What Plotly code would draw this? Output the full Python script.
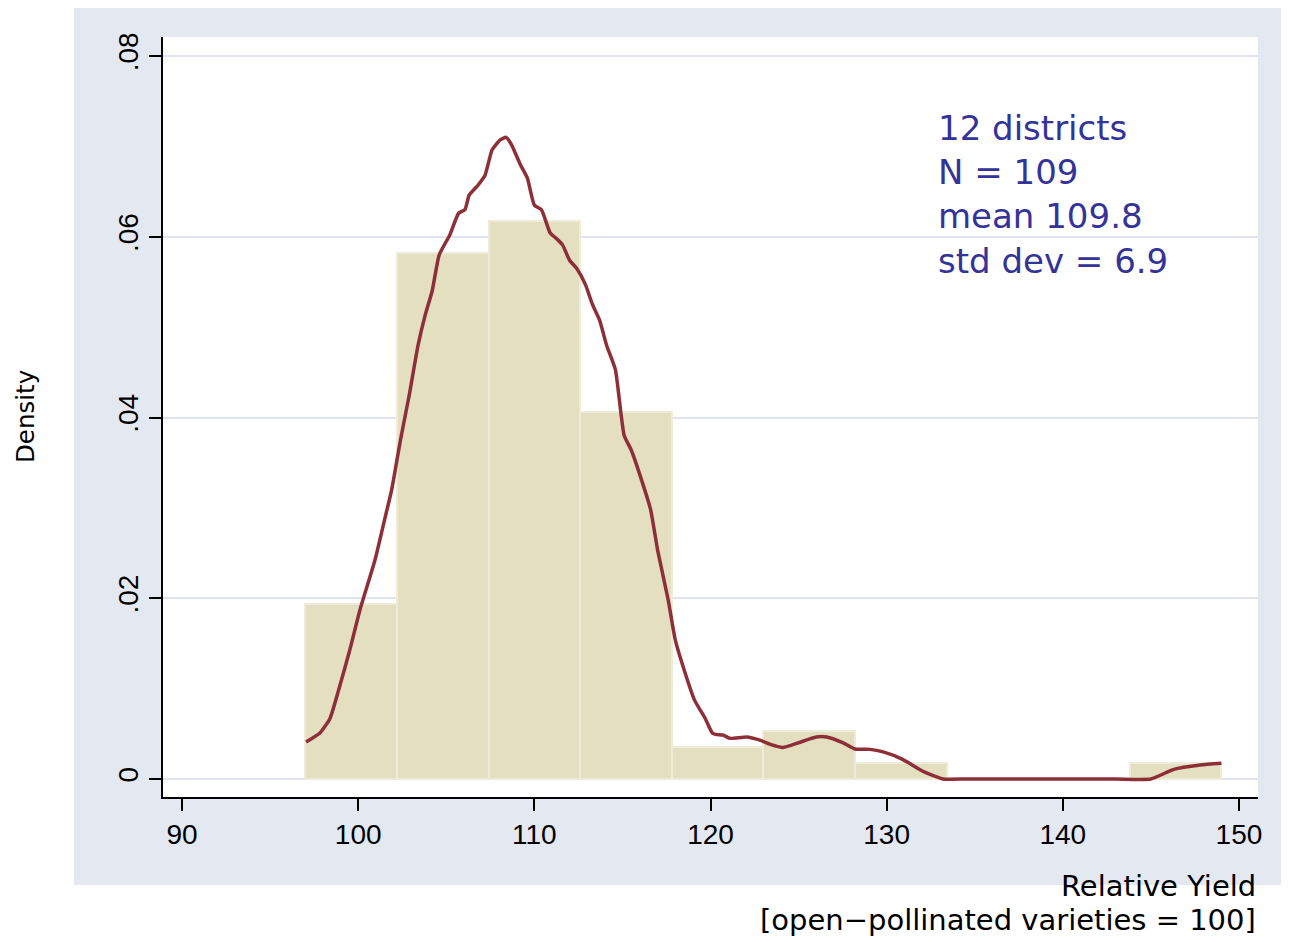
import plotly.graph_objects as go

# Histogram data (bin edges start 97.0, width 5.2)
bin_start = 97.0
bin_width = 5.2
bin_density = [0.01941, 0.05822, 0.06175, 0.04058, 0.00353, 0.00529, 0.00176, 0.0, 0.0, 0.00176]

# Kernel density curve
kd_x = [97.04, 97.83, 98.4, 98.97, 99.5, 100.1, 100.95, 101.5, 101.9, 102.4, 102.9, 103.4,
        103.8, 104.2, 104.6, 105.2, 105.7, 106.06, 106.3, 106.8, 107.2, 107.6, 108.05, 108.4,
        108.7, 109.2, 109.6, 110.0, 110.4, 110.9, 111.2, 111.6, 112.0, 112.4, 112.9, 113.3,
        113.7, 114.1, 114.6, 115.1, 115.5, 116.0, 116.6, 117.0, 117.6, 118.0, 118.5, 119.1,
        119.7, 120.1, 120.3, 120.7, 121.1, 122.05, 122.8, 123.4, 124.1, 124.9, 126.0, 126.6,
        127.5, 128.2, 129.05, 129.8, 130.9, 132.1, 133.2, 134.5, 137.0, 140.0, 143.0, 145.0,
        146.3, 147.8, 149.0]
kd_y = [0.0041, 0.0051, 0.0067, 0.0104, 0.0141, 0.0187, 0.0242, 0.0287, 0.032, 0.0375, 0.0425, 0.048,
        0.0513, 0.054, 0.058, 0.0602, 0.0626, 0.063, 0.0646, 0.0657, 0.0668, 0.0696, 0.0707, 0.071,
        0.0702, 0.068, 0.0665, 0.0635, 0.063, 0.0604, 0.0599, 0.0591, 0.0574, 0.0565, 0.0547, 0.0525,
        0.0508, 0.048, 0.0453, 0.038, 0.0364, 0.0336, 0.0298, 0.0253, 0.0198, 0.0154, 0.0121, 0.0087,
        0.0067, 0.0051, 0.00494, 0.00487, 0.0045, 0.00465, 0.0043, 0.00384, 0.0035, 0.00395, 0.00465, 0.00465,
        0.00402, 0.00332, 0.00328, 0.003, 0.00218, 0.00081, 0.0, 0.0, 0.0, 0.0, 0.0, 0.0,
        0.00107, 0.00155, 0.00174]

x_ticks = [90, 100, 110, 120, 130, 140, 150]
y_ticks = [0, 0.02, 0.04, 0.06, 0.08]
y_ticklabels = ["0", ".02", ".04", ".06", ".08"]
note_lines = ["12 districts", "N = 109", "mean 109.8", "std dev = 6.9"]
x_title_lines = ["Relative Yield", "[open\u2212pollinated varieties = 100]"]
y_title = "Density"

centers = [bin_start + bin_width * (i + 0.5) for i in range(len(bin_density))]

FONT = "DejaVu Sans"
TICKFONT = "Liberation Sans"
fig = go.Figure()
fig.add_trace(go.Bar(x=centers, y=bin_density, width=bin_width,
                     marker=dict(color="#e3dfc0", line=dict(color="#eeebd9", width=2)),
                     showlegend=False, hoverinfo="skip"))
fig.add_trace(go.Scatter(x=kd_x, y=kd_y, mode="lines",
                         line=dict(color="#8e2f37", width=3.5, shape="spline", smoothing=0.5),
                         showlegend=False))

# page has an 8px body margin; figure coords = page coords - 8
OFF = 8
W, H = 1289 - OFF, 942 - OFF
L, R, T, B = 163 - OFF, 1289 - 1258, 37 - OFF, 942 - 797
pw, ph = W - L - R, H - T - B

def px(xp):
    return (xp - OFF - L) / pw

def py(yp):
    return (H - B - (yp - OFF)) / ph

fig.update_layout(
    width=W, height=H,
    margin=dict(l=L, r=R, t=T, b=B, pad=0),
    paper_bgcolor="white", plot_bgcolor="white",
    bargap=0,
    font=dict(family=FONT, color="black"),
    shapes=[
        dict(type="rect", xref="paper", yref="paper", x0=px(74), x1=px(1295), y0=py(885), y1=py(-5),
             fillcolor="#e4e8f1", line=dict(width=0), layer="below"),
        dict(type="rect", xref="paper", yref="paper", x0=0, x1=1, y0=0, y1=1,
             fillcolor="white", line=dict(width=0), layer="below"),
    ],
    xaxis=dict(range=[88.92, 151.08], tickvals=x_ticks, ticks="outside", ticklen=12,
               tickcolor="black", tickwidth=1.5, showline=True, linecolor="black", linewidth=1.5,
               showgrid=False, zeroline=False, tickfont=dict(size=28, family=TICKFONT)),
    yaxis=dict(range=[-0.00199, 0.0821], tickvals=y_ticks, ticktext=y_ticklabels, ticks="outside",
               ticklen=12, tickcolor="black", tickwidth=1.5, showline=True, linecolor="black",
               linewidth=1.5, showgrid=True, gridcolor="#dfe4ee", gridwidth=2, zeroline=False,
               tickangle=-90, tickfont=dict(size=28, family=TICKFONT)),
)

annotations = [
    dict(text="<br>".join(note_lines), xref="paper", yref="paper", x=px(936), y=py(106),
         xanchor="left", yanchor="top", align="left", showarrow=False,
         font=dict(size=34, color="#333399", family=FONT)),
    dict(text=y_title, xref="paper", yref="paper", x=px(25), y=py(417), textangle=-90,
         showarrow=False, xanchor="center", yanchor="middle", font=dict(size=24.5, family=FONT)),
    dict(text=x_title_lines[0], xref="paper", yref="paper", x=1, y=py(886),
         xanchor="right", yanchor="middle", showarrow=False, font=dict(size=29, family=FONT)),
    dict(text=x_title_lines[1], xref="paper", yref="paper", x=1, y=py(920),
         xanchor="right", yanchor="middle", showarrow=False, font=dict(size=29, family=FONT)),
]
fig.update_layout(annotations=annotations)

fig.write_html("out.html")
